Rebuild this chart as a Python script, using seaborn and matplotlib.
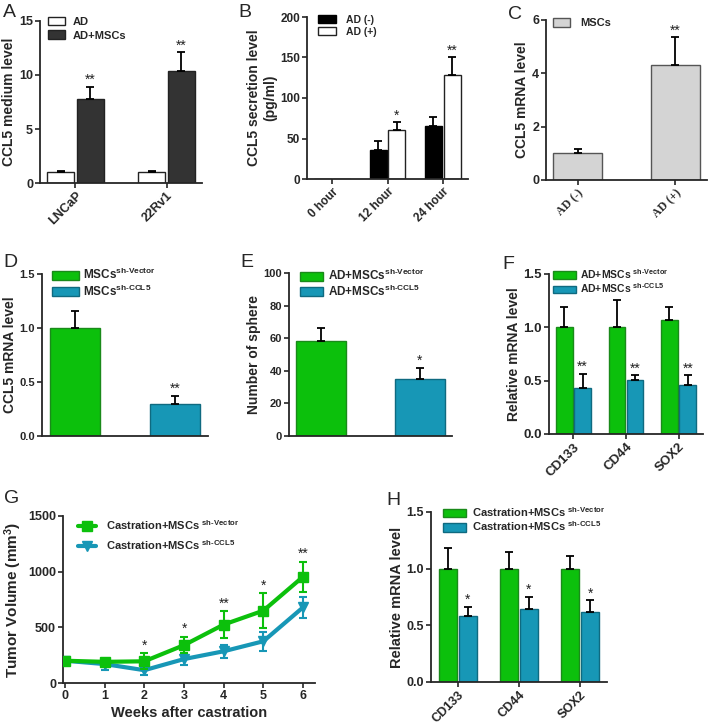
import numpy as np
import pandas as pd
import matplotlib
matplotlib.use('Agg')
import matplotlib.pyplot as plt
import seaborn as sns
from matplotlib.patches import Patch

sns.set_style('ticks')
plt.rcParams['font.family'] = ['Liberation Sans', 'DejaVu Sans']
plt.rcParams['font.weight'] = 'bold'
plt.rcParams['axes.labelweight'] = 'bold'
plt.rcParams['axes.linewidth'] = 1.3
plt.rcParams['mathtext.default'] = 'regular'

GREEN = '#0cc00c'
TEAL = '#1797b6'
GREEN_EDGE = '#1a8a1a'
TEAL_EDGE = '#0f6a80'

# Panel A
a_cells = ['LNCaP', '22Rv1']
a_groups = ['AD', 'AD+MSCs']
a_means = [[1.0, 1.0], [7.8, 10.4]]
a_errs = [[0.1, 0.15], [1.1, 1.7]]
a_stars = [['', ''], ['**', '**']]

# Panel B
b_times = ['0 hour', '12 hour', '24 hour']
b_groups = ['AD (-)', 'AD (+)']
b_means = [[0, 36, 66], [0, 60, 128]]
b_errs = [[0, 11, 11], [0, 10, 22]]
b_stars = [['', '', ''], ['', '*', '**']]

# Panel C
c_conds = ['AD (-)', 'AD (+)']
c_means = [1.0, 4.3]
c_errs = [0.17, 1.05]
c_stars = ['', '**']

# Panel D
d_groups = ['MSCs$^{sh‐Vector}$', 'MSCs$^{sh‐CCL5}$']
d_means = [1.0, 0.30]
d_errs = [0.16, 0.07]
d_stars = ['', '**']

# Panel E
e_groups = ['AD+MSCs$^{sh‐Vector}$', 'AD+MSCs$^{sh‐CCL5}$']
e_means = [58.5, 35.0]
e_errs = [8.0, 7.0]
e_stars = ['', '*']

# Panel F
f_genes = ['CD133', 'CD44', 'SOX2']
f_groups = ['AD+MSCs $^{sh‐Vector}$', 'AD+MSCs $^{sh‐CCL5}$']
f_means = [[1.0, 1.0, 1.07], [0.43, 0.51, 0.46]]
f_errs = [[0.19, 0.26, 0.12], [0.13, 0.04, 0.09]]
f_stars = [['', '', ''], ['**', '**', '**']]

# Panel G
g_weeks = [0, 1, 2, 3, 4, 5, 6]
g_groups = ['Castration+MSCs $^{sh‐Vector}$', 'Castration+MSCs $^{sh‐CCL5}$']
g_vector = [200, 190, 195, 340, 525, 650, 955]
g_vector_err = [15, 20, 70, 75, 120, 155, 135]
g_ccl5 = [200, 170, 115, 215, 285, 375, 680]
g_ccl5_err = [15, 50, 45, 55, 60, 85, 95]
g_stars = ['', '', '*', '*', '**', '*', '**']

# Panel H
h_genes = ['CD133', 'CD44', 'SOX2']
h_groups = ['Castration+MSCs $^{sh‐Vector}$', 'Castration+MSCs $^{sh‐CCL5}$']
h_means = [[1.0, 1.0, 1.0], [0.58, 0.64, 0.62]]
h_errs = [[0.18, 0.15, 0.11], [0.08, 0.11, 0.10]]
h_stars = [['', '', ''], ['*', '*', '*']]

W, H = 709, 724
fig = plt.figure(figsize=(W / 100, H / 100), dpi=100)


def make_ax(l, t, r, b, tick_size):
    ax = fig.add_axes([l / W, 1 - b / H, (r - l) / W, (b - t) / H])
    sns.despine(ax=ax)
    ax.tick_params(direction='out', length=3.5, width=1.2, labelsize=tick_size, pad=1.5)
    ax._box = (l, t, r, b)
    return ax


def grouped(ax, cats, groups, means, colors, width, gap):
    rows = []
    for g, m in zip(groups, means):
        for c, v in zip(cats, m):
            rows.append({'cat': c, 'group': g, 'val': v})
    df = pd.DataFrame(rows)
    sns.barplot(data=df, x='cat', y='val', hue='group', order=cats, hue_order=groups,
                palette=dict(zip(groups, colors)), width=width, gap=gap,
                errorbar=None, legend=False, saturation=1, linewidth=1, ax=ax)


def single(ax, cats, means, colors, width):
    df = pd.DataFrame({'cat': cats, 'val': means})
    sns.barplot(data=df, x='cat', y='val', hue='cat', order=cats, hue_order=cats,
                palette=dict(zip(cats, colors)), width=width, dodge=False,
                errorbar=None, legend=False, saturation=1, linewidth=1, ax=ax)


def decorate(ax, errs, stars, edges, star_size=10):
    patches = []
    edge_list = []
    for cont, ec in zip(ax.containers, edges):
        for p in cont.patches:
            patches.append(p)
            edge_list.append(ec)
    for p, ev, st, ec in zip(patches, errs, stars, edge_list):
        p.set_edgecolor(ec)
        x = p.get_x() + p.get_width() / 2
        h = p.get_height()
        if ev > 0:
            ax.errorbar(x, h, yerr=[[0], [ev]], fmt='none', ecolor='black',
                        elinewidth=1.3, capsize=3, capthick=1.3, zorder=1)
        if st:
            ax.text(x, h + ev, st, ha='center', va='bottom', fontsize=star_size,
                    fontweight='normal', color='#222222')
    ax.set_xlabel('')


def place_legend(ax, handles, labels, left_px, top_px, size, handle_px, spacing,
                 pad_px=8, handle_h=0.8):
    l, t, r, b = ax._box
    ax.legend(handles, labels, loc='upper left',
              bbox_to_anchor=((left_px - l) / (r - l), 1 + (t - top_px) / (b - t)),
              frameon=False, fontsize=size, handlelength=handle_px / (size * 100 / 72),
              handleheight=handle_h, labelspacing=spacing, borderaxespad=0, borderpad=0,
              handletextpad=pad_px / (size * 100 / 72))


def patch_handles(faces, edges):
    return [Patch(facecolor=f, edgecolor=e, linewidth=1) for f, e in zip(faces, edges)]


def rotate_xticks(ax, **kw):
    for t in ax.get_xticklabels():
        t.set_rotation(45)
        t.set_ha('right')
        t.set_rotation_mode('anchor')
        for k, v in kw.items():
            getattr(t, 'set_' + k)(v)


def flat(x):
    return [v for row in x for v in row]


# A
ax = make_ax(40, 21, 202, 183, 9)
grouped(ax, a_cells, a_groups, a_means, ['white', '#333333'], 0.65, 0.1)
decorate(ax, flat(a_errs), flat(a_stars), ['#222222', '#222222'])
ax.set_ylim(0, 15)
ax.set_yticks([0, 5, 10, 15])
ax.set_ylabel('CCL5 medium level', fontsize=10, labelpad=2)
rotate_xticks(ax)
place_legend(ax, patch_handles(['white', '#333333'], ['#222222', '#222222']), a_groups,
             48, 17, 8, 17, 0.3)

# B
ax = make_ax(307, 17, 468, 179, 8.5)
grouped(ax, b_times, b_groups, b_means, ['black', 'white'], 0.68, 0.1)
decorate(ax, flat(b_errs), flat(b_stars), ['black', '#222222'])
ax.set_ylim(0, 200)
ax.set_yticks([0, 50, 100, 150, 200])
ax.set_ylabel('CCL5 secretion level\n(pg/ml)', fontsize=10, labelpad=2)
rotate_xticks(ax)
place_legend(ax, patch_handles(['black', 'white'], ['black', '#222222']), b_groups,
             318, 15, 7.5, 18, 0.15, pad_px=10)

# C
ax = make_ax(546, 20, 707, 180, 9)
single(ax, c_conds, c_means, ['#d4d4d4', '#d4d4d4'], 0.5)
decorate(ax, c_errs, c_stars, ['#555555', '#555555'])
ax.set_ylim(0, 6)
ax.set_yticks([0, 2, 4, 6])
ax.set_ylabel('CCL5 mRNA level', fontsize=10, labelpad=2)
rotate_xticks(ax, family='Liberation Serif', fontsize=8.5)
place_legend(ax, patch_handles(['#d4d4d4'], ['#555555']), ['MSCs'],
             553, 18, 8, 17, 0.2, pad_px=10)

# D
ax = make_ax(42, 274, 208, 436, 8)
single(ax, d_groups, d_means, [GREEN, TEAL], 0.5)
decorate(ax, d_errs, d_stars, [GREEN_EDGE, TEAL_EDGE])
ax.set_ylim(0, 1.5)
ax.set_yticks([0, 0.5, 1.0, 1.5])
ax.set_yticklabels(['0.0', '0.5', '1.0', '1.5'])
ax.set_xticks([])
ax.set_ylabel('CCL5 mRNA level', fontsize=10, labelpad=2)
place_legend(ax, patch_handles([GREEN, TEAL], [GREEN_EDGE, TEAL_EDGE]), d_groups,
             52, 267, 8.5, 27, 0.1, pad_px=4)

# E
ax = make_ax(289, 273, 452, 436, 8)
single(ax, e_groups, e_means, [GREEN, TEAL], 0.5)
decorate(ax, e_errs, e_stars, [GREEN_EDGE, TEAL_EDGE])
ax.set_ylim(0, 100)
ax.set_yticks([0, 20, 40, 60, 80, 100])
ax.set_xticks([])
ax.set_ylabel('Number of sphere', fontsize=10, labelpad=2)
place_legend(ax, patch_handles([GREEN, TEAL], [GREEN_EDGE, TEAL_EDGE]), e_groups,
             300, 268, 8.5, 23, 0.05, pad_px=5)

# F
ax = make_ax(549, 274, 703, 434, 9.5)
grouped(ax, f_genes, f_groups, f_means, [GREEN, TEAL], 0.7, 0.1)
decorate(ax, flat(f_errs), flat(f_stars), [GREEN_EDGE, TEAL_EDGE])
ax.set_ylim(0, 1.5)
ax.set_yticks([0, 0.5, 1.0, 1.5])
ax.set_yticklabels(['0.0', '0.5', '1.0', '1.5'])
ax.set_ylabel('Relative mRNA level', fontsize=10, labelpad=2)
rotate_xticks(ax)
place_legend(ax, patch_handles([GREEN, TEAL], [GREEN_EDGE, TEAL_EDGE]), f_groups,
             553, 267, 7.5, 23, 0.05, pad_px=4)

# G
ax = make_ax(63, 516, 315, 683, 9)
vec = ax.errorbar(g_weeks, g_vector, yerr=g_vector_err, color=GREEN, marker='s', markersize=7,
                  linewidth=3, elinewidth=1.5, capsize=3, capthick=1.5, zorder=3)
ccl = ax.errorbar(g_weeks, g_ccl5, yerr=g_ccl5_err, color=TEAL, marker='v', markersize=7,
                  linewidth=3, elinewidth=1.5, capsize=3, capthick=1.5, zorder=2)
for x, m, e, st in zip(g_weeks, g_vector, g_vector_err, g_stars):
    if st:
        ax.text(x, m + e + 5, st, ha='center', va='bottom', fontsize=10,
                fontweight='normal', color='#222222')
ax.set_xlim(-0.05, 6.3)
ax.set_ylim(0, 1500)
ax.set_xticks(g_weeks)
ax.set_yticks([0, 500, 1000, 1500])
ax.set_xlabel('Weeks after castration', fontsize=10.5, labelpad=3)
ax.set_ylabel('Tumor Volume (mm$^3$)', fontsize=11, labelpad=3)
place_legend(ax, [vec[0], ccl[0]], g_groups, 78, 518, 8, 18, 0.55, pad_px=10)

# H
ax = make_ax(431, 512, 607, 682, 9)
grouped(ax, h_genes, h_groups, h_means, [GREEN, TEAL], 0.65, 0.1)
decorate(ax, flat(h_errs), flat(h_stars), [GREEN_EDGE, TEAL_EDGE])
ax.set_ylim(0, 1.5)
ax.set_yticks([0, 0.5, 1.0, 1.5])
ax.set_yticklabels(['0.0', '0.5', '1.0', '1.5'])
ax.set_ylabel('Relative mRNA level', fontsize=10.5, labelpad=2)
rotate_xticks(ax)
place_legend(ax, patch_handles([GREEN, TEAL], [GREEN_EDGE, TEAL_EDGE]), h_groups,
             443, 505, 8, 23, 0.05, pad_px=6)

# panel letters
for letter, x, y in [('A', 3, 4), ('B', 238, 4), ('C', 508, 6), ('D', 3, 254),
                     ('E', 240, 254), ('F', 502, 256), ('G', 4, 490), ('H', 386, 492)]:
    fig.text(x / W, 1 - y / H, letter, fontsize=14, fontweight='normal', va='top', ha='left')

fig.savefig('out.png', dpi=100)
